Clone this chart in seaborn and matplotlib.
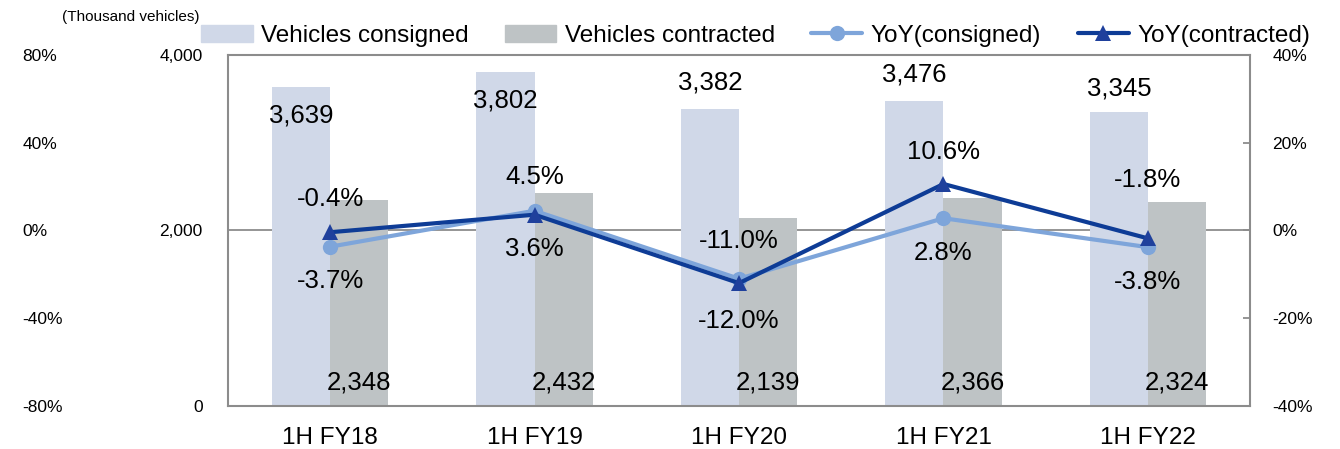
import matplotlib
matplotlib.use("Agg")
import matplotlib.pyplot as plt
import seaborn as sns
import pandas as pd
from matplotlib.patches import Patch
from matplotlib.lines import Line2D
from matplotlib.ticker import FuncFormatter, FixedLocator

# === Data ===
periods = ["1H FY18", "1H FY19", "1H FY20", "1H FY21", "1H FY22"]
consigned = [3639, 3802, 3382, 3476, 3345]
contracted = [2348, 2432, 2139, 2366, 2324]
yoy_consigned = [-3.7, 4.5, -11.0, 2.8, -3.8]
yoy_contracted = [-0.4, 3.6, -12.0, 10.6, -1.8]

# label offsets (points) as Excel placed them
consigned_off = [-21, -20, 19, 19, 17]
yoy_cons_off = [-25, 24, 27, -25, -25]
yoy_cont_off = [24, -25, -27, 23, 42]

C_CONS = "#D0D8E8"
C_CONT = "#BEC3C5"
L_CONS = "#7EA5DA"
L_CONT = "#0E3C96"
SPINE = "#8C8C8C"

sns.set_style("white")
plt.rcParams["font.family"] = ["Liberation Sans", "DejaVu Sans"]
plt.rcParams["text.color"] = "black"
plt.rcParams["xtick.color"] = "black"
plt.rcParams["ytick.color"] = "black"

df = pd.DataFrame({
    "period": periods * 2,
    "value": consigned + contracted,
    "series": ["Vehicles consigned"] * 5 + ["Vehicles contracted"] * 5,
})

fig = plt.figure(figsize=(13.4, 4.49), dpi=100)
ax = fig.add_axes([0.170, 0.0958, 0.763, 0.7817])

sns.barplot(data=df, x="period", y="value", hue="series", ax=ax,
            palette=[C_CONS, C_CONT], width=0.57, gap=0, legend=False,
            saturation=1, linewidth=0)
ax.set_axisbelow(True)
ax.set_ylim(0, 4000)
ax.set_xlim(-0.5, 4.5)
ax.set_yticks([0, 2000, 4000])
ax.yaxis.set_major_formatter(FuncFormatter(lambda v, p: f"{int(v):,}"))
ax.grid(axis="y", color=SPINE, linewidth=1.3)
ax.set_xlabel("")
ax.set_ylabel("")
ax.tick_params(axis="y", length=0, pad=18, labelsize=12.5)
ax.tick_params(axis="x", which="major", length=0, pad=15, labelsize=17.5)
ax.xaxis.set_minor_locator(FixedLocator([0.5, 1.5, 2.5, 3.5]))
ax.tick_params(axis="x", which="minor", direction="in", length=6,
               color=SPINE, width=1.3)
for s in ax.spines.values():
    s.set_color(SPINE)
    s.set_linewidth(1.5)

bw = 0.57 / 2
for i in range(5):
    ax.annotate(f"{consigned[i]:,}", (i - bw / 2, consigned[i]),
                xytext=(0, consigned_off[i]), textcoords="offset points",
                ha="center", va="center", fontsize=18.5)
    ax.text(i + bw / 2, 270, f"{contracted[i]:,}", ha="center",
            va="center", fontsize=18.5)

# YoY lines on right axis
ax2 = ax.twinx()
xs = list(range(5))
sns.lineplot(x=xs, y=yoy_consigned, ax=ax2, color=L_CONS, linewidth=3,
             marker="o", markersize=11, markeredgewidth=0)
sns.lineplot(x=xs, y=yoy_contracted, ax=ax2, color=L_CONT, linewidth=3,
             marker="^", markersize=12, markeredgewidth=0,
             markerfacecolor="#1F409C")
ax2.set_ylim(-40, 40)
ax2.set_yticks([-40, -20, 0, 20, 40])
ax2.yaxis.set_major_formatter(FuncFormatter(lambda v, p: f"{int(v)}%"))
ax2.tick_params(axis="y", direction="in", length=5, color=SPINE, width=1.3,
                pad=16, labelsize=12.5, labelcolor="black")
for s in ax2.spines.values():
    s.set_visible(False)

for i in range(5):
    ax2.annotate(f"{yoy_consigned[i]:.1f}%", (i, yoy_consigned[i]),
                 xytext=(0, yoy_cons_off[i]), textcoords="offset points",
                 ha="center", va="center", fontsize=18.5)
    ax2.annotate(f"{yoy_contracted[i]:.1f}%", (i, yoy_contracted[i]),
                 xytext=(0, yoy_cont_off[i]), textcoords="offset points",
                 ha="center", va="center", fontsize=18.5)

# stray far-left percentage scale
ax3 = fig.add_axes([22 / 1340, 0.0958, 0.0005, 0.7817])
ax3.set_ylim(-80, 80)
ax3.set_yticks([-80, -40, 0, 40, 80])
ax3.yaxis.set_major_formatter(FuncFormatter(lambda v, p: f"{int(v)}%"))
ax3.yaxis.tick_right()
ax3.tick_params(axis="y", length=0, pad=0, labelsize=12.5)
ax3.set_xticks([])
for s in ax3.spines.values():
    s.set_visible(False)

fig.text(62 / 1340, 1 - 17 / 449, "(Thousand vehicles)", fontsize=11,
         va="center", ha="left")

handles = [
    Patch(color=C_CONS, label="Vehicles consigned"),
    Patch(color=C_CONT, label="Vehicles contracted"),
    Line2D([], [], color=L_CONS, lw=3, marker="o", ms=11, mew=0,
           label="YoY(consigned)"),
    Line2D([], [], color=L_CONT, lw=3, marker="^", ms=12, mew=0,
           markerfacecolor="#1F409C", label="YoY(contracted)"),
]
fig.legend(handles=handles, loc="center", bbox_to_anchor=(0.564, 0.92),
           ncol=4, frameon=False, fontsize=17.5, handlelength=2.1,
           handleheight=0.7, handletextpad=0.35, columnspacing=1.5,
           borderpad=0)

fig.savefig("out.png", dpi=100)
